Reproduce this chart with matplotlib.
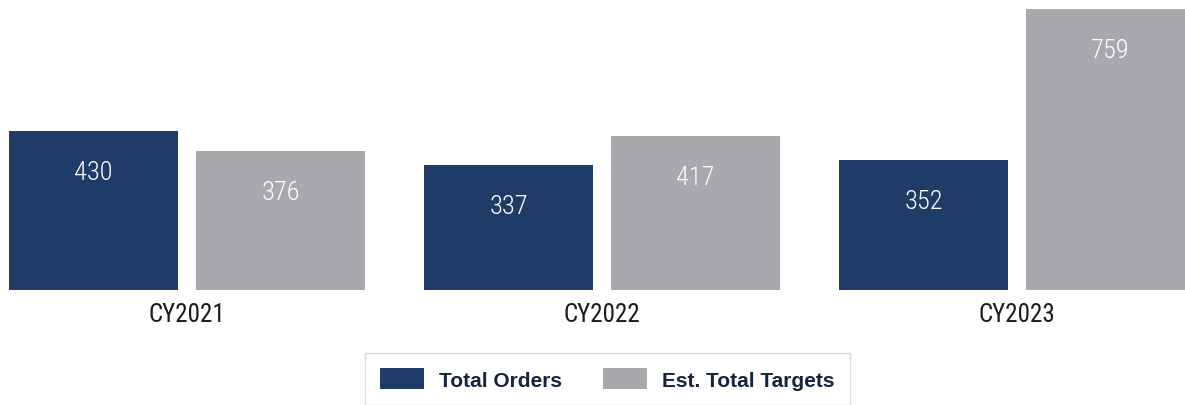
import matplotlib
matplotlib.use("Agg")
import matplotlib.pyplot as plt
import numpy as np
from matplotlib import font_manager

categories = ["CY2021", "CY2022", "CY2023"]
total_orders = [430, 337, 352]
est_targets = [376, 417, 759]
series_names = ["Total Orders", "Est. Total Targets"]

NAVY = "#1f3c69"
GRAY = "#a8a9ad"

names = {f.name for f in font_manager.fontManager.ttflist}
narrow = "DejaVu Sans"
for cand in ["Roboto Condensed", "Archivo Narrow", "PT Sans Narrow", "Fira Sans Condensed", "Pragati Narrow"]:
    if cand in names:
        narrow = cand
        break

fig = plt.figure(figsize=(11.85, 4.06), dpi=100)
ax = fig.add_axes([0, 115 / 406, 1, 291 / 406])

x = np.arange(len(categories))
w = 169 / 415
off = (169 + 18) / 2 / 415
b1 = ax.bar(x - off, total_orders, width=w, color=NAVY, label=series_names[0])
b2 = ax.bar(x + off, est_targets, width=w, color=GRAY, label=series_names[1])

ax.set_xlim(-187 / 415, (1185 - 187) / 415)
ax.set_ylim(0, 291 / 0.3702)

for bars, vals in ((b1, total_orders), (b2, est_targets)):
    for rect, v in zip(bars, vals):
        ax.annotate(str(v), (rect.get_x() + rect.get_width() / 2, rect.get_height()),
                    xytext=(0, -29.5), textcoords="offset points",
                    ha="center", va="center", color="white", fontsize=19,
                    family=narrow, fontweight="light")

ax.set_xticks(x)
ax.set_xticklabels(categories, fontsize=18, family=narrow, color="#1a1a1a")
ax.tick_params(axis="x", length=0, pad=9)
ax.set_yticks([])
for s in ax.spines.values():
    s.set_visible(False)

leg = fig.legend(handles=[b1, b2], loc="upper left",
                 bbox_to_anchor=(365 / 1185, (406 - 354) / 406),
                 ncol=2, frameon=True, fancybox=False, edgecolor="#d0d0d0",
                 prop={"family": "Liberation Sans", "weight": "bold", "size": 15},
                 handlelength=2.1, handleheight=1.2, handletextpad=0.72,
                 columnspacing=2.0, borderpad=0.72, borderaxespad=0)
leg.get_frame().set_linewidth(1.0)
for t in leg.get_texts():
    t.set_color("#15233f")

fig.savefig("out.png", dpi=100)
